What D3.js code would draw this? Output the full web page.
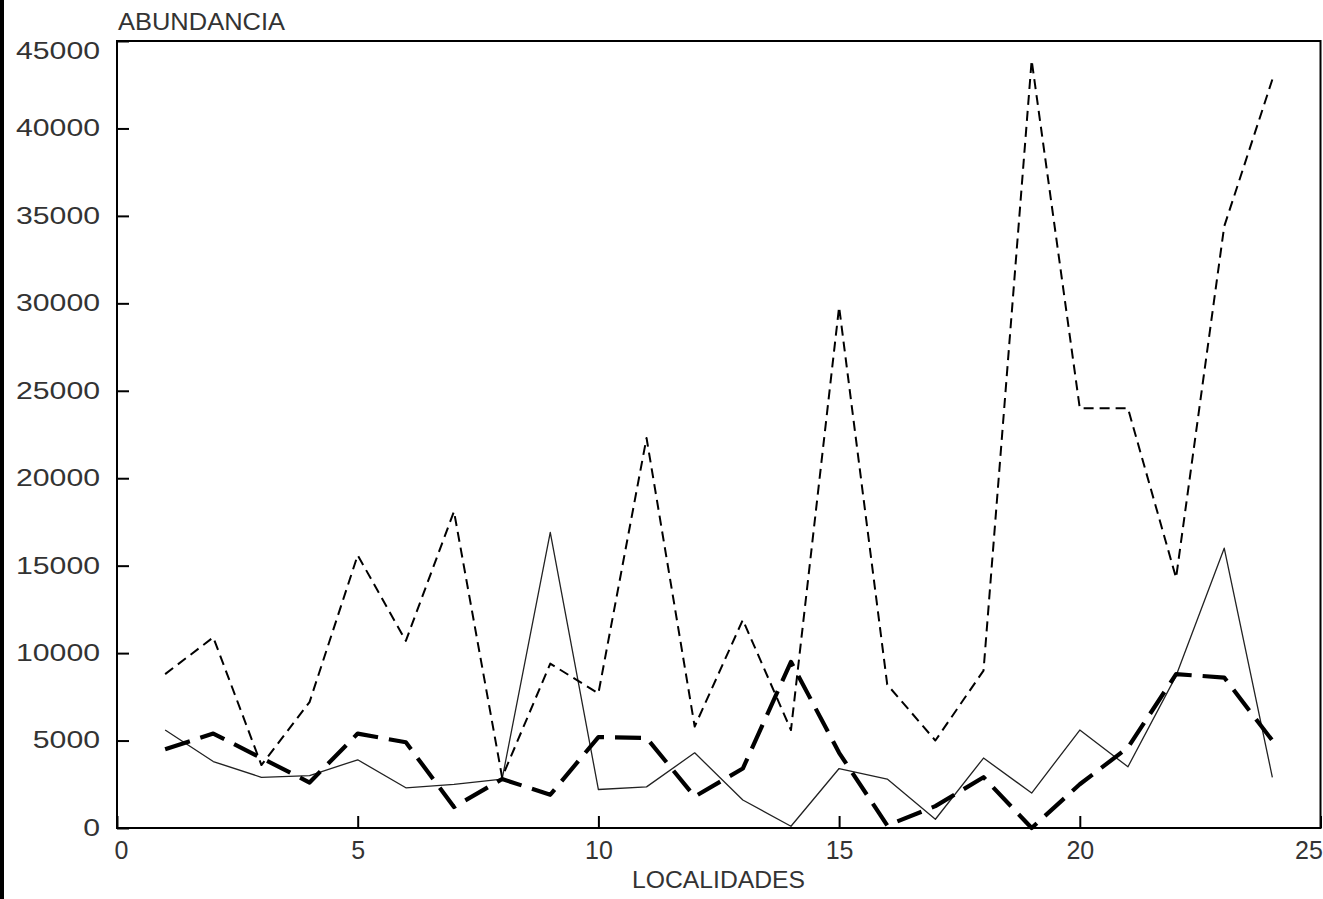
<!DOCTYPE html>
<html>
<head>
<meta charset="utf-8">
<script src="https://cdn.jsdelivr.net/npm/d3@7"></script>
<style>
  html, body { margin: 0; padding: 0; background: #fff; }
  svg { display: block; }
  text { font-family: "Liberation Sans", Arial, sans-serif; fill: #333; }
</style>
</head>
<body>
<svg id="chart" width="1323" height="899"></svg>
<script>
// ---- data ----
const localidades = [1,2,3,4,5,6,7,8,9,10,11,12,13,14,15,16,17,18,19,20,21,22,23,24];
const serieDiscontinua = [8800, 10900, 3600, 7200, 15600, 10700, 18100, 2900, 9400, 7700, 22300, 5800,
                          11900, 5600, 29800, 8200, 5000, 9000, 43900, 24000, 24000, 14300, 34400, 42800];
const serieContinua    = [5600, 3800, 2900, 3000, 3900, 2300, 2500, 2800, 16900, 2200, 2350, 4300,
                          1600, 100, 3400, 2800, 500, 4000, 2000, 5600, 3500, 8700, 16000, 2900];
const serieGruesa      = [4500, 5400, 4000, 2600, 5400, 4900, 1200, 2800, 1900, 5200, 5150, 1800,
                          3400, 9500, 4300, 150, 1250, 2900, 0, 2500, 4600, 8800, 8600, 5000];
const xTicks = [0, 5, 10, 15, 20, 25];
const yTicks = [0, 5000, 10000, 15000, 20000, 25000, 30000, 35000, 40000, 45000];
const yTitle = "ABUNDANCIA";
const xTitle = "LOCALIDADES";

// ---- layout ----
const svg = d3.select("#chart");
const pLeft = 117, pRight = 1320.5, pTop = 41, pBottom = 828;

const x = d3.scaleLinear().domain([0, 25]).range([pLeft, pRight]);
const y = d3.scaleLinear().domain([0, 45000]).range([pBottom, pTop]);

// scan border on far left
svg.append("rect").attr("x", 0).attr("y", 0).attr("width", 4).attr("height", 899).attr("fill", "#000");

// frame
svg.append("rect")
  .attr("x", pLeft).attr("y", pTop)
  .attr("width", pRight - pLeft).attr("height", pBottom - pTop)
  .attr("fill", "none").attr("stroke", "#000").attr("stroke-width", 2);

// axes
const xAxis = svg.append("g")
  .attr("transform", `translate(0,${pBottom})`)
  .call(d3.axisBottom(x).tickValues(xTicks).tickSize(-12).tickPadding(13).tickFormat(d3.format("d")));
xAxis.select(".domain").remove();
xAxis.selectAll("line").attr("stroke", "#000").attr("stroke-width", 2);
xAxis.selectAll("text")
  .attr("font-size", 25).attr("fill", "#333")
  .style("font-family", "'Liberation Sans', Arial, sans-serif");
xAxis.selectAll(".tick").filter(d => d === 25).select("text").attr("dx", -12);
xAxis.selectAll(".tick").filter(d => d === 0).select("text").attr("dx", 4);

const yAxis = svg.append("g")
  .attr("transform", `translate(${pLeft},0)`)
  .call(d3.axisLeft(y).tickValues(yTicks).tickSize(-12).tickPadding(17).tickFormat(d3.format("d")));
yAxis.select(".domain").remove();
yAxis.selectAll("line").attr("stroke", "#000").attr("stroke-width", 2);
yAxis.selectAll("text")
  .attr("font-size", 23).attr("fill", "#333")
  .style("font-family", "'Liberation Sans', Arial, sans-serif")
  .attr("textLength", d => String(d).length * 16.8)
  .attr("lengthAdjust", "spacingAndGlyphs");
yAxis.selectAll(".tick").filter(d => d === 45000).select("text").attr("dy", "0.75em");

// titles
svg.append("text").attr("x", 118).attr("y", 30)
  .attr("font-size", 23).attr("textLength", 167).attr("lengthAdjust", "spacingAndGlyphs")
  .text(yTitle);
svg.append("text").attr("x", 632).attr("y", 888)
  .attr("font-size", 23).attr("textLength", 173).attr("lengthAdjust", "spacingAndGlyphs")
  .text(xTitle);

// lines
const line = d3.line().x((d, i) => x(localidades[i])).y(d => y(d));

svg.append("path").datum(serieContinua)
  .attr("d", line).attr("fill", "none")
  .attr("stroke", "#222").attr("stroke-width", 1.3).attr("stroke-linejoin", "round");

svg.append("path").datum(serieDiscontinua)
  .attr("d", line).attr("fill", "none")
  .attr("stroke", "#000").attr("stroke-width", 2)
  .attr("stroke-dasharray", "10,6").attr("stroke-linejoin", "round");

svg.append("path").datum(serieGruesa)
  .attr("d", line).attr("fill", "none")
  .attr("stroke", "#000").attr("stroke-width", 4.2)
  .attr("stroke-dasharray", "26,11").attr("stroke-linejoin", "round");
</script>
</body>
</html>
